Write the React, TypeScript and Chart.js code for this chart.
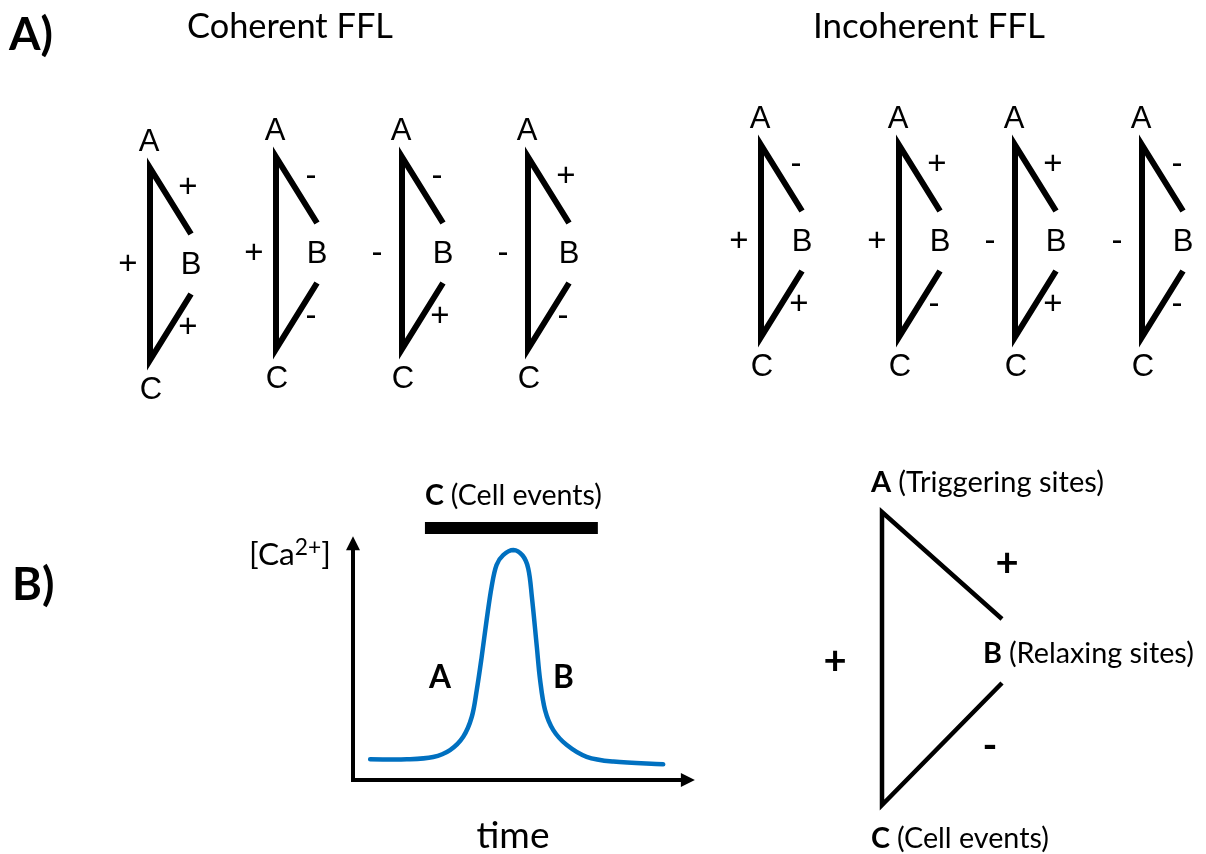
import React, { useEffect, useRef } from "react";
import { Chart, registerables } from "chart.js";

Chart.register(...registerables);

// ================= DATA =================
const panelLetters = ["A)", "B)"];
const motifTitles = ["Coherent FFL", "Incoherent FFL"];
const nodeNames = ["A", "B", "C"];
// edge signs of each feed-forward loop: [A→B, A→C, B→C]
const coherentSigns = [
  ["+", "+", "+"],
  ["-", "+", "-"],
  ["-", "-", "+"],
  ["+", "-", "-"],
];
const incoherentSigns = [
  ["-", "+", "+"],
  ["+", "+", "-"],
  ["+", "-", "+"],
  ["-", "-", "-"],
];

// Ca2+ transient (time in a.u., level normalised to the peak)
const caTime = [0.52, 1.63, 2.43, 2.94, 3.34, 3.6, 3.75, 3.9, 4.05, 4.2, 4.35, 4.55, 4.86, 5.14, 5.31, 5.42, 5.57, 5.67, 5.82, 6.07, 6.48, 7.08, 7.89, 9.4];
const caLevel = [0.09, 0.09, 0.1, 0.13, 0.188, 0.275, 0.391, 0.536, 0.696, 0.84, 0.935, 0.978, 1.0, 0.976, 0.92, 0.797, 0.58, 0.435, 0.304, 0.217, 0.152, 0.101, 0.08, 0.068];
const cellEventWindow = [2.18, 7.42];
const cellEventLevel = 1.096;
const phaseLabels = ["A", "B"];
const axisLabels = ["[Ca", "2+", "]", "time"];
const modelNotes = ["(Triggering sites)", "(Relaxing sites)", "(Cell events)"];
const modelSigns = ["+", "+", "-"]; // A→B, A→C, B→C

// ================= LAYOUT =================
const PAGE_W = 1206;
const PAGE_H = 854;
const MOTIF = { h: 192, w: 41, dy: 66, line: 6 };
const coherentX = [150, 276, 402, 528];
const coherentTop = [168, 157, 157, 157];
const incoherentX = [761, 899, 1015, 1142];
const incoherentTop = [145, 145, 145, 145];
const MODEL = { x: 882, top: 512, bottom: 805, endX: 1002, upperEnd: 619, lowerStart: 683, line: 4.5 };
const CA_BOX = { left: 230, top: 470, w: 500, h: 384 };
const CA_PAD = { left: 123, right: 47, top: 80, bottom: 74 };
const CA_X_MAX = 10;
const CA_Y_MAX = 1;
const AXIS_X_END = 10.36;
const AXIS_Y_END = 1.06;
const PHASE_POS = [
  { t: 2.3, c: 0.4 },
  { t: 6.06, c: 0.4 },
];

const SANS = "Lato, 'Open Sans', sans-serif";
const ARIAL = "'Liberation Sans', Arial, sans-serif";
const BLUE = "#0070C0";

type Part = { text: string; bold?: boolean; scale?: number; rise?: number };

function partFont(p: Part, size: number, family: string) {
  return `${p.bold ? "700 " : ""}${size * (p.scale ?? 1)}px ${family}`;
}

function fitSize(ctx: CanvasRenderingContext2D, parts: Part[], family: string, target: number) {
  ctx.save();
  let w = 0;
  for (const p of parts) {
    ctx.font = partFont(p, 100, family);
    w += ctx.measureText(p.text).width;
  }
  ctx.restore();
  return (100 * target) / w;
}

function drawParts(
  ctx: CanvasRenderingContext2D,
  parts: Part[],
  family: string,
  size: number,
  x: number,
  y: number,
  align: "left" | "center" | "right"
) {
  ctx.save();
  ctx.textBaseline = "alphabetic";
  ctx.textAlign = "left";
  ctx.fillStyle = "#000";
  const widths = parts.map((p) => {
    ctx.font = partFont(p, size, family);
    return ctx.measureText(p.text).width;
  });
  const total = widths.reduce((a, b) => a + b, 0);
  let cx = align === "left" ? x : align === "center" ? x - total / 2 : x - total;
  parts.forEach((p, i) => {
    ctx.font = partFont(p, size, family);
    ctx.fillText(p.text, cx, y - (p.rise ?? 0) * size);
    cx += widths[i];
  });
  ctx.restore();
}

function fitDraw(
  ctx: CanvasRenderingContext2D,
  parts: Part[],
  family: string,
  target: number,
  x: number,
  y: number,
  align: "left" | "center" | "right"
) {
  const s = fitSize(ctx, parts, family, target);
  drawParts(ctx, parts, family, s, x, y, align);
}

function centerText(ctx: CanvasRenderingContext2D, text: string, font: string, x: number, y: number) {
  ctx.save();
  ctx.font = font;
  ctx.textAlign = "center";
  ctx.textBaseline = "middle";
  ctx.fillStyle = "#000";
  ctx.fillText(text, x, y);
  ctx.restore();
}

function motifPath(X: number, T: number) {
  return [
    { x: X + MOTIF.w, y: T + MOTIF.dy },
    { x: X, y: T },
    { x: X, y: T + MOTIF.h },
    { x: X + MOTIF.w, y: T + MOTIF.h - MOTIF.dy },
  ];
}

const lineDefaults = {
  showLine: true,
  pointRadius: 0,
  pointHoverRadius: 0,
  fill: false,
  tension: 0,
  borderJoinStyle: "miter" as const,
  borderCapStyle: "butt" as const,
  borderColor: "#000",
  clip: false as const,
};

export default function App() {
  const mainRef = useRef<HTMLCanvasElement | null>(null);
  const caRef = useRef<HTMLCanvasElement | null>(null);

  useEffect(() => {
    document.body.style.margin = "0";
    document.body.style.background = "#fff";
    if (!mainRef.current || !caRef.current) return;

    // ---------- main diagram ----------
    const motifs = [
      ...coherentX.map((X, i) => ({ X, T: coherentTop[i], signs: coherentSigns[i] })),
      ...incoherentX.map((X, i) => ({ X, T: incoherentTop[i], signs: incoherentSigns[i] })),
    ];

    const datasets: any[] = motifs.map((m) => ({
      ...lineDefaults,
      data: motifPath(m.X, m.T),
      borderWidth: MOTIF.line,
    }));
    datasets.push({
      ...lineDefaults,
      data: [
        { x: MODEL.endX, y: MODEL.upperEnd },
        { x: MODEL.x, y: MODEL.top },
        { x: MODEL.x, y: MODEL.bottom },
        { x: MODEL.endX, y: MODEL.lowerStart },
      ],
      borderWidth: MODEL.line,
    });

    const mainText = {
      id: "mainText",
      afterDatasetsDraw(chart: any) {
        const ctx: CanvasRenderingContext2D = chart.ctx;
        const px = (v: number) => chart.scales.x.getPixelForValue(v);
        const py = (v: number) => chart.scales.y.getPixelForValue(v);

        // panel letters
        const letterSize = fitSize(ctx, [{ text: panelLetters[0], bold: true }], SANS, 44);
        drawParts(ctx, [{ text: panelLetters[0], bold: true }], SANS, letterSize, px(9), py(50), "left");
        drawParts(ctx, [{ text: panelLetters[1], bold: true }], SANS, letterSize, px(12), py(600), "left");

        // titles
        fitDraw(ctx, [{ text: motifTitles[0] }], SANS, 206, px(290), py(38), "center");
        fitDraw(ctx, [{ text: motifTitles[1] }], SANS, 232, px(929), py(38), "center");

        // motif labels
        const nodeFont = `31px ${ARIAL}`;
        const signFont = `33px ${ARIAL}`;
        motifs.forEach(({ X, T, signs }) => {
          centerText(ctx, nodeNames[0], nodeFont, px(X - 1), py(T - 26));
          centerText(ctx, nodeNames[1], nodeFont, px(X + MOTIF.w), py(T + 97));
          centerText(ctx, nodeNames[2], nodeFont, px(X + 1), py(T + MOTIF.h + 30));
          const [ab, ac, bc] = signs;
          centerText(ctx, ab, signFont, px(X + (ab === "+" ? 38 : 35)), py(T + 20));
          centerText(ctx, ac, signFont, px(X - (ac === "+" ? 22 : 25)), py(T + 97));
          centerText(ctx, bc, signFont, px(X + (bc === "+" ? 38 : 35)), py(T + 160));
        });

        // model triangle labels
        fitDraw(ctx, [{ text: nodeNames[0] + " ", bold: true }, { text: modelNotes[0] }], SANS, 233, px(871), py(492), "left");
        fitDraw(ctx, [{ text: nodeNames[1] + " ", bold: true }, { text: modelNotes[1] }], SANS, 211, px(983), py(663), "left");
        fitDraw(ctx, [{ text: nodeNames[2] + " ", bold: true }, { text: modelNotes[2] }], SANS, 178, px(871), py(848), "left");
        const mSign = `700 40px ${SANS}`;
        centerText(ctx, modelSigns[0], mSign, px(1007), py(563));
        centerText(ctx, modelSigns[1], mSign, px(835), py(661));
        centerText(ctx, modelSigns[2], mSign, px(990), py(746));
      },
    };

    const mainChart = new Chart(mainRef.current, {
      type: "scatter",
      data: { datasets },
      options: {
        animation: false,
        responsive: false,
        maintainAspectRatio: false,
        events: [],
        layout: { padding: 0 },
        plugins: { legend: { display: false }, tooltip: { enabled: false }, title: { display: false } },
        scales: {
          x: { type: "linear", min: 0, max: PAGE_W, display: false },
          y: { type: "linear", min: 0, max: PAGE_H, reverse: true, display: false },
        },
      },
      plugins: [mainText],
    } as any);

    // ---------- Ca2+ transient ----------
    const caPlugin = {
      id: "caDecor",
      beforeDatasetsDraw(chart: any) {
        const ctx: CanvasRenderingContext2D = chart.ctx;
        const xs = chart.scales.x;
        const ys = chart.scales.y;
        const x0 = xs.getPixelForValue(0);
        const y0 = ys.getPixelForValue(0);
        const xTip = xs.getPixelForValue(AXIS_X_END);
        const yTip = ys.getPixelForValue(AXIS_Y_END);
        const head = 14;
        const half = 7;
        ctx.save();
        ctx.strokeStyle = "#000";
        ctx.fillStyle = "#000";
        ctx.lineWidth = 4;
        ctx.lineJoin = "miter";
        ctx.lineCap = "square";
        ctx.beginPath();
        ctx.moveTo(x0, yTip + head - 1);
        ctx.lineTo(x0, y0);
        ctx.lineTo(xTip - head + 1, y0);
        ctx.stroke();
        ctx.beginPath();
        ctx.moveTo(x0, yTip);
        ctx.lineTo(x0 - half, yTip + head);
        ctx.lineTo(x0 + half, yTip + head);
        ctx.closePath();
        ctx.fill();
        ctx.beginPath();
        ctx.moveTo(xTip, y0);
        ctx.lineTo(xTip - head, y0 - half);
        ctx.lineTo(xTip - head, y0 + half);
        ctx.closePath();
        ctx.fill();
        ctx.restore();
      },
      afterDatasetsDraw(chart: any) {
        const ctx: CanvasRenderingContext2D = chart.ctx;
        const xs = chart.scales.x;
        const ys = chart.scales.y;
        const area = chart.chartArea;
        // cell-event label above the bar
        fitDraw(
          ctx,
          [{ text: nodeNames[2] + " ", bold: true }, { text: modelNotes[2] }],
          SANS,
          177,
          xs.getPixelForValue(cellEventWindow[0]),
          ys.getPixelForValue(cellEventLevel) - 23,
          "left"
        );
        // phase labels
        const phaseSize = fitSize(ctx, [{ text: phaseLabels[0], bold: true }], SANS, 22);
        phaseLabels.forEach((lab, i) => {
          drawParts(ctx, [{ text: lab, bold: true }], SANS, phaseSize, xs.getPixelForValue(PHASE_POS[i].t), ys.getPixelForValue(PHASE_POS[i].c), "left");
        });
        // axis titles
        fitDraw(
          ctx,
          [{ text: axisLabels[0] }, { text: axisLabels[1], scale: 0.72, rise: 0.33 }, { text: axisLabels[2] }],
          SANS,
          82,
          area.left - 22,
          area.top + 15,
          "right"
        );
        fitDraw(ctx, [{ text: axisLabels[3] }], SANS, 73, area.left + 160, area.bottom + 68, "center");
      },
    };

    const caChart = new Chart(caRef.current, {
      type: "scatter",
      data: {
        datasets: [
          {
            ...lineDefaults,
            data: cellEventWindow.map((t) => ({ x: t, y: cellEventLevel })),
            borderWidth: 12,
            borderColor: "#000",
          },
          {
            ...lineDefaults,
            data: caTime.map((t, i) => ({ x: t, y: caLevel[i] })),
            borderColor: BLUE,
            borderWidth: 4.5,
            tension: 0.35,
            borderCapStyle: "round",
            borderJoinStyle: "round",
          },
        ],
      },
      options: {
        animation: false,
        responsive: false,
        maintainAspectRatio: false,
        events: [],
        layout: { padding: CA_PAD },
        plugins: { legend: { display: false }, tooltip: { enabled: false }, title: { display: false } },
        scales: {
          x: { type: "linear", min: 0, max: CA_X_MAX, display: false },
          y: { type: "linear", min: 0, max: CA_Y_MAX, display: false },
        },
      },
      plugins: [caPlugin],
    } as any);

    return () => {
      mainChart.destroy();
      caChart.destroy();
    };
  }, []);

  return (
    <div style={{ position: "relative", width: PAGE_W, height: PAGE_H, background: "#fff", overflow: "hidden" }}>
      <canvas ref={mainRef} width={PAGE_W} height={PAGE_H} style={{ position: "absolute", left: 0, top: 0 }} />
      <canvas
        ref={caRef}
        width={CA_BOX.w}
        height={CA_BOX.h}
        style={{ position: "absolute", left: CA_BOX.left, top: CA_BOX.top }}
      />
    </div>
  );
}
